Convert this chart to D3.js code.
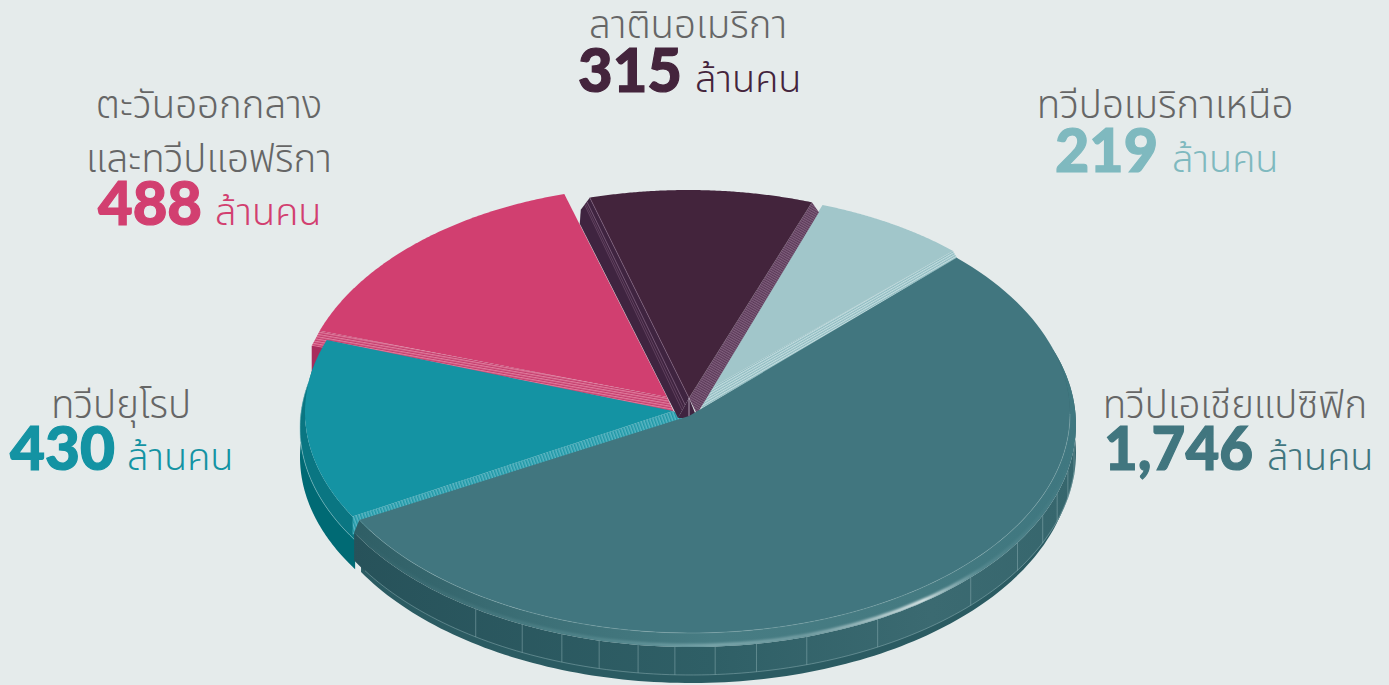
<!DOCTYPE html>
<html><head><meta charset="utf-8">
<script src="https://cdn.jsdelivr.net/npm/d3@7/dist/d3.min.js"></script>
<style>html,body{margin:0;padding:0;background:#e5ebeb}svg{display:block}</style>
</head><body><svg id="c" width="1389" height="685"></svg>
<script>
// ---- data
const regionKeys = ["asia","europe","mea","latam","namerica"];
const regionValues = [1746,430,488,315,219];
const regionColors = ["#41767f","#1493a3","#d13f70","#43243c","#a1c6ca"];
const regionNames = [
  ["ทวีปเอเชียแปซิฟิก"],
  ["ทวีปยุโรป"],
  ["ตะวันออกกลาง","และทวีปแอฟริกา"],
  ["ลาตินอเมริกา"],
  ["ทวีปอเมริกาเหนือ"]
];
const unitLabel = "ล้านคน";
const valueColors = ["#41767f","#1493a3","#d23f70","#44243c","#7fb9bf"];
// rim seam angles (degrees clockwise from 12 o'clock)
const rimSeams = [214,206,199.6,193.8,187.9,182.4,176.4,170.2,162.5,151,133.4,122,114,108,101.8,95.8];

// ---- layout (screen geometry)
const W=1389,H=685;
const geo = {
  asia:{cx:691,cy:414,rx:379,ry:219,ax:689,ay:416},
  europe:{cx:686,cy:412,rx:381,ry:216,ax:673,ay:411},
  mea:{cx:662,cy:403,rx:363,ry:217,ax:667,ay:397},
  latam:{cx:688,cy:397,rx:365,ry:207,ax:689,ay:398},
  namerica:{cx:700,cy:395,rx:361,ry:202,ax:706,ay:391}
};
const labelLayout = {
  asia:{name:[1235],nameY:[418],num:1104,numEnd:1253,unit:1267,y:470},
  europe:{name:[121],nameY:[418],num:10,numEnd:115,unit:127,y:470},
  mea:{name:[209,209],nameY:[118,172],num:98,numEnd:202,unit:215,y:225},
  latam:{name:[688],nameY:[38],num:578,numEnd:682,unit:695,y:92},
  namerica:{name:[1165],nameY:[118],num:1055,numEnd:1158,unit:1172,y:172}
};
const rad = d=>d*Math.PI/180;
const svg = d3.select("#c");
svg.append("rect").attr("width",W).attr("height",H).attr("fill","#e5ebeb");
const defs = svg.append("defs");

function hatch(id,bg,fg,angle,size){
  const p=defs.append("pattern").attr("id",id).attr("patternUnits","userSpaceOnUse")
    .attr("width",size).attr("height",size).attr("patternTransform",`rotate(${angle})`);
  p.append("rect").attr("width",size).attr("height",size).attr("fill",bg);
  p.append("rect").attr("width",size).attr("height",size/2).attr("fill",fg);
}
hatch("hPink","#c53f6e","#e07a9c",10,2.4);
hatch("hBlue","#1f97a6","#5ab6c3",70,3);
hatch("hLatam","#5b3a58","#7f5e7c",30,2.2);
hatch("hLight","#8fbcc1","#c3dcdf",-30,2.2);

function lin(id,x1,x2,stops){
  const g=defs.append("linearGradient").attr("id",id).attr("gradientUnits","userSpaceOnUse")
    .attr("x1",x1).attr("x2",x2).attr("y1",0).attr("y2",0);
  stops.forEach(s=>g.append("stop").attr("offset",s[0]).attr("stop-color",s[1]).attr("stop-opacity",s[2]===undefined?1:s[2]));
}
lin("gWall",350,1076,[[0,"#27525a"],[0.5,"#2f5f66"],[0.8,"#3b6a71"],[1,"#36666d"]]);
lin("gBevel",350,1076,[[0,"#2f5e65"],[0.25,"#3c6f76"],[0.5,"#477c83"],[0.8,"#447a81"],[1,"#3f7780"]]);
lin("gGlow",350,1076,[[0,"#7fb0b5",0],[0.35,"#7fb0b5",0.3],[0.5,"#9fc4c8",0.6],[0.62,"#a8c6c9",0.45],[0.79,"#e2ecec",1],[0.87,"#9fc4c8",0.2],[1,"#9fc4c8",0]]);
defs.append("filter").attr("id","soft").append("feGaussianBlur").attr("stdDeviation",1);

const pie = d3.pie().sort(null).value(d=>d).startAngle(rad(44.5)).endAngle(rad(44.5)+2*Math.PI);
const arcsData = pie(regionValues);
const slices = {};
regionKeys.forEach((k,i)=>{slices[k]={...arcsData[i],color:regionColors[i],g:geo[k]};});
const lineGen = d3.line();

function pt(g,a,rAdd=0,cyAdd=0,ryAdd=rAdd){
  return [g.cx+(g.rx+rAdd)*Math.sin(a), g.cy+cyAdd-(g.ry+ryAdd)*Math.cos(a)];
}
function arcPts(g,a0,a1,rAdd=0,cyAdd=0,ryAdd=rAdd){
  return d3.range(0,121).map(i=>pt(g,a0+(a1-a0)*i/120,rAdd,cyAdd,ryAdd));
}
function ring(parent,g,a0,a1,outer,inner,fill){
  const p=arcPts(g,a0,a1,...outer).concat(arcPts(g,a1,a0,...inner));
  return parent.append("path").attr("d",lineGen(p)+"Z").attr("fill",fill);
}
function curve(parent,g,a0,a1,spec,stroke,w,op){
  return parent.append("path").attr("d",lineGen(arcPts(g,a0,a1,...spec))).attr("fill","none")
    .attr("stroke",stroke).attr("stroke-width",w).attr("opacity",op===undefined?1:op);
}
function topFace(parent,s){
  const g=s.g;
  parent.append("path").attr("d",lineGen([[g.ax,g.ay],...arcPts(g,s.startAngle,s.endAngle)])+"Z").attr("fill",s.color);
}
function poly(parent,pts,fill){
  return parent.append("path").attr("d",lineGen(pts)+"Z").attr("fill",fill);
}
function shift(p,dx,dy){return [p[0]+dx,p[1]+dy];}

const G=svg.append("g");
// ---- North America
{
  const s=slices.namerica,g=s.g,c=pt(g,s.endAngle);
  poly(G,[c,shift(c,8,14),[700,414],[g.ax,g.ay]],"url(#hLight)");
  topFace(G,s);
}
// ---- Middle East & Africa
{
  const s=slices.mea,g=s.g,c=pt(g,s.startAngle);
  poly(G,[shift(c,-8,15),shift(c,-8,45),shift(c,20,60),shift(c,20,15)],"#a92c5c");
  topFace(G,s);
  poly(G,[c,shift(c,-8,15),[674,412],[g.ax,g.ay]],"url(#hPink)");
}
// ---- Europe
{
  const s=slices.europe,g=s.g;
  const ea=rad(284),sa=rad(239);
  ring(G,g,sa,ea,[5,45,2],[5,16,2],"#006a74");
  ring(G,g,sa,ea,[5,16,2],[0,0,0],"#0a7682");
  curve(G,g,sa,ea,[5,16,2],"#8cc5cb",.8,.7);
  const c=pt(g,s.startAngle);
  poly(G,[c,shift(c,0,18),[660,440],[g.ax+17,g.ay+9],[g.ax,g.ay]],"url(#hBlue)");
  topFace(G,s);
}
// ---- Latin America
{
  const s=slices.latam,g=s.g;
  const l=pt(g,s.startAngle),r=pt(g,s.endAngle);
  poly(G,[l,shift(l,-9,12),shift(l,-10,26),[678,418],[g.ax,g.ay]],"#3f2440");
  poly(G,[[g.ax,g.ay],[678,418],[697,418],[695,413]],"#3f2440");
  [[0.35,"#8a6a88"],[0.5,"#6e4e6c"],[0.62,"#6e4e6c"]].forEach(f=>{
    const a=[l[0]-8*f[0],l[1]+12*f[0]],b=[g.ax-11*f[0],g.ay+20*f[0]];
    G.append("line").attr("x1",a[0]).attr("y1",a[1]).attr("x2",b[0]).attr("y2",b[1])
      .attr("stroke",f[1]).attr("stroke-width",.7);
  });
  poly(G,[r,shift(r,7,10),[697,414],[g.ax,g.ay]],"url(#hLatam)");
  topFace(G,s);
  G.append("line").attr("x1",l[0]).attr("y1",l[1]).attr("x2",g.ax).attr("y2",g.ay).attr("stroke","#8a6a88").attr("stroke-width",.6);
  G.append("line").attr("x1",g.ax).attr("y1",g.ay).attr("x2",g.ax).attr("y2",g.ay+18).attr("stroke","#cdbfd0").attr("stroke-width",.8);
}
// ---- Asia Pacific
{
  const s=slices.asia,g=s.g;
  const a0=rad(70),a1=s.endAngle;
  ring(G,g,rad(98),rad(240),[2,47,3],[2,30,3],"#2b5b62");
  ring(G,g,a0,a1,[6,39,3],[6,11,3],"url(#gWall)");
  curve(G,g,rad(95),rad(238),[5.5,39,3],"#8fb2b6",.7,.7);
  G.append("g").selectAll("line").data(rimSeams).join("line")
    .attr("x1",d=>pt(g,rad(d),6,11,3)[0]).attr("x2",d=>pt(g,rad(d),6,11,3)[0])
    .attr("y1",d=>pt(g,rad(d),6,11,3)[1]).attr("y2",d=>pt(g,rad(d),6,39,3)[1])
    .attr("stroke","#8fb2b6").attr("stroke-width",.7).attr("opacity",.7);
  ring(G,g,a0,a1,[6,11,3],[0,0,0],"url(#gBevel)");
  const clip=defs.append("clipPath").attr("id","bevelClip");
  clip.append("path").attr("d",lineGen(arcPts(g,a0,a1,6,11,3).concat(arcPts(g,a1,a0,0,0,0)))+"Z");
  G.append("g").attr("clip-path","url(#bevelClip)").append("path")
    .attr("d",lineGen(arcPts(g,rad(80),a1,5.4,10,2.6))).attr("fill","none")
    .attr("stroke","url(#gGlow)").attr("stroke-width",3.5).attr("filter","url(#soft)");
  topFace(G,s);
  curve(G,g,rad(90),a1,[0,0,0],"#8fb2b6",.7,.55);
}
// ---- Labels
const thai='"Noto Sans Thai","Noto Sans",Lato,sans-serif';
const T=svg.append("g");
regionKeys.forEach((k,i)=>{
  const L=labelLayout[k];
  regionNames[i].forEach((n,j)=>{
    T.append("text").attr("x",L.name[j]).attr("y",L.nameY[j]).attr("text-anchor","middle")
      .attr("font-family",thai).attr("font-weight",300).attr("font-size",38.5).attr("fill","#666666").text(n);
  });
  T.append("text").attr("x",L.num).attr("y",L.y)
    .attr("textLength",L.numEnd-L.num).attr("lengthAdjust","spacingAndGlyphs")
    .attr("font-family","Lato,sans-serif").attr("font-weight",900).attr("font-size",60)
    .attr("fill",valueColors[i]).attr("stroke",valueColors[i]).attr("stroke-width",1.2)
    .text(d3.format(",")(regionValues[i]));
  T.append("text").attr("x",L.unit).attr("y",L.y)
    .attr("font-family",thai).attr("font-weight",300).attr("font-size",38).attr("fill",valueColors[i]).text(unitLabel);
});
</script></body></html>
